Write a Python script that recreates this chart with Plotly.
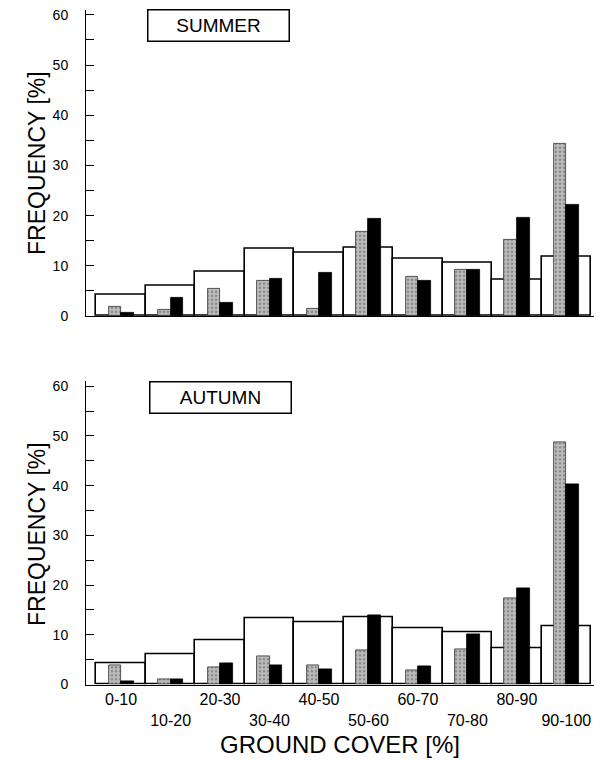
import plotly.graph_objects as go

categories = ["0-10", "10-20", "20-30", "30-40", "40-50",
              "50-60", "60-70", "70-80", "80-90", "90-100"]
# white (wide) bars: same in both panels
available = [4.3, 6.0, 8.8, 13.3, 12.6, 13.6, 11.3, 10.6, 7.3, 11.8]
summer_grey = [1.9, 1.3, 5.5, 7.1, 1.5, 16.7, 7.8, 9.2, 15.1, 34.3]
summer_black = [0.7, 3.7, 2.7, 7.5, 8.6, 19.3, 7.1, 9.2, 19.5, 22.1]
autumn_grey = [3.9, 1.0, 3.4, 5.7, 3.9, 6.9, 2.8, 7.1, 17.3, 48.7]
autumn_black = [0.7, 1.1, 4.2, 3.8, 3.1, 14.0, 3.6, 10.1, 19.3, 40.3]
panel_labels = ["SUMMER", "AUTUMN"]
yticks = [0, 10, 20, 30, 40, 50, 60]
y_title = "FREQUENCY [%]"
x_title = "GROUND COVER [%]"

FONT = "Liberation Sans, Arial, Helvetica, sans-serif"
idx = list(range(len(categories)))
ticktext = [c if i % 2 == 0 else "<br>" + c for i, c in enumerate(categories)]

fig = go.Figure()


def add_panel(grey, black, xa, ya):
    fig.add_trace(go.Bar(
        x=idx, y=available, width=1.0, offset=-0.5, name="ground cover",
        marker=dict(color="white", line=dict(color="black", width=1.6)),
        xaxis=xa, yaxis=ya, showlegend=False))
    fig.add_trace(go.Bar(
        x=idx, y=grey, width=0.25, offset=-0.25, name="grey",
        marker=dict(color="#b0b0b0", line=dict(color="#333333", width=0.8),
                    pattern=dict(shape=".", fgcolor="#555555", bgcolor="#bdbdbd",
                                 size=4, solidity=0.35)),
        xaxis=xa, yaxis=ya, showlegend=False))
    fig.add_trace(go.Bar(
        x=idx, y=black, width=0.26, offset=0.0, name="black",
        marker=dict(color="black", line=dict(color="black", width=0.8)),
        xaxis=xa, yaxis=ya, showlegend=False))


add_panel(summer_grey, summer_black, "x", "y")
add_panel(autumn_grey, autumn_black, "x2", "y2")

H = 761.0
W_PLOT = 596 - 88
xrange_ = [-0.71, 9.56]

yaxis_common = dict(
    range=[0, 61], tickvals=yticks, ticks="inside", ticklen=8, tickwidth=1,
    tickcolor="black", showline=True, linecolor="black", linewidth=1,
    showgrid=False, zeroline=False, ticklabelstandoff=14, automargin=False,
    tickfont=dict(family=FONT, size=14, color="black"),
    minor=dict(dtick=5, ticks="inside", ticklen=8, tickcolor="black", showgrid=False),
)

fig.update_layout(
    width=596, height=761,
    margin=dict(l=86, r=2, t=0, b=0),
    paper_bgcolor="white", plot_bgcolor="white",
    barmode="overlay", bargap=0,
    font=dict(family=FONT, color="black"),
    xaxis=dict(domain=[0, 1], range=xrange_, anchor="y", showline=True,
               linecolor="black", linewidth=1.2, showgrid=False, zeroline=False,
               tickvals=idx, ticktext=[""] * len(idx), ticks="", automargin=False),
    yaxis=dict(domain=[1 - 316 / H, 1 - 9.8 / H], anchor="x", **yaxis_common),
    xaxis2=dict(domain=[0, 1], range=xrange_, anchor="y2", showline=True,
                linecolor="black", linewidth=1.2, showgrid=False, zeroline=False,
                tickvals=idx, ticktext=ticktext, ticks="", automargin=False,
                tickfont=dict(family=FONT, size=16, color="black"),
                title=dict(text=x_title,
                           font=dict(family=FONT, size=24, color="black"),
                           standoff=8)),
    yaxis2=dict(domain=[1 - 684.5 / H, 1 - 381.3 / H], anchor="x2", **yaxis_common),
)

# y-axis titles (placed as rotated text to match the original spacing)
for cy in (163, 534):
    fig.add_annotation(
        x=(37 - 86) / W_PLOT, y=1 - cy / H, xref="paper", yref="paper",
        text=y_title, textangle=-90, showarrow=False,
        xanchor="center", yanchor="middle",
        font=dict(family=FONT, size=23, color="black"))

# panel labels in boxes
for lab, (cx, cy) in zip(panel_labels, [(218, 25.5), (220.5, 397)]):
    fig.add_annotation(
        x=(cx - 86) / W_PLOT, y=1 - cy / H, xref="paper", yref="paper",
        text=lab, showarrow=False, xanchor="center", yanchor="middle",
        width=136, height=26, borderpad=2, bordercolor="black", borderwidth=1.5,
        bgcolor="white", font=dict(family=FONT, size=19, color="black"))

fig.write_html(
    "out.html",
    config={"displayModeBar": False},
    post_script="document.body.style.margin='0';document.body.style.overflow='hidden';",
)
